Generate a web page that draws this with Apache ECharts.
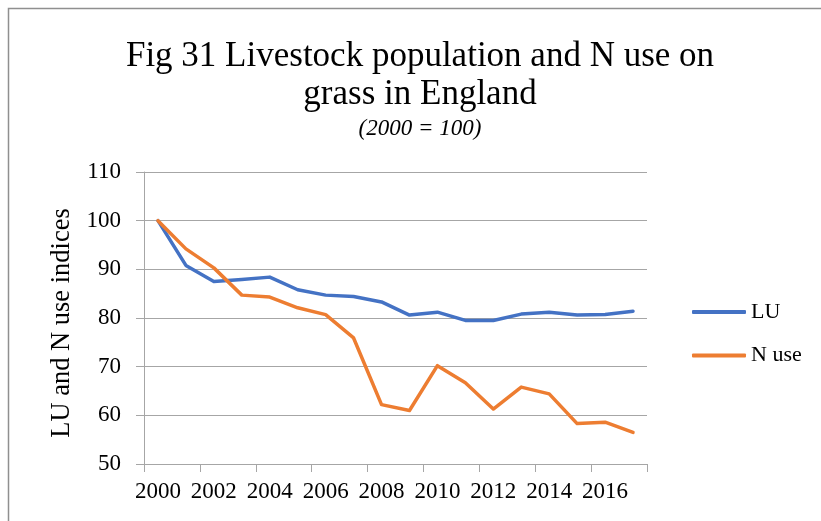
<!DOCTYPE html>
<html>
<head>
<meta charset="utf-8">
<script src="https://cdn.jsdelivr.net/npm/echarts@6/dist/echarts.min.js"></script>
<style>
html,body{margin:0;padding:0;background:#fff;}
#chart{width:821px;height:521px;}
</style>
</head>
<body>
<div id="chart"></div>
<script>
const years = ['2000','2001','2002','2003','2004','2005','2006','2007','2008','2009','2010','2011','2012','2013','2014','2015','2016','2017'];
const luValues = [100, 90.8, 87.5, 87.9, 88.4, 85.8, 84.7, 84.4, 83.3, 80.6, 81.2, 79.5, 79.5, 80.8, 81.2, 80.6, 80.7, 81.4];
const nUseValues = [100, 94.2, 90.3, 84.7, 84.3, 82.1, 80.7, 75.9, 62.2, 61.0, 70.2, 66.7, 61.3, 65.8, 64.4, 58.3, 58.6, 56.5];
const seriesNames = ['LU', 'N use'];
const titleText = 'Fig 31 Livestock population and N use on\ngrass in England';
const subtitleText = '(2000 = 100)';
const yAxisTitle = 'LU and N use indices';

const FONT = '"Liberation Serif", "Times New Roman", serif';
const chart = echarts.init(document.getElementById('chart'), null, {renderer: 'canvas'});
chart.setOption({
  animation: false,
  backgroundColor: '#ffffff',
  graphic: [{
    type: 'rect',
    shape: {x: 8.5, y: 8.5, width: 900, height: 700},
    style: {fill: 'none', stroke: '#8f8f8f', lineWidth: 1.5},
    silent: true
  }],
  title: {
    text: titleText,
    subtext: subtitleText,
    left: 420,
    textAlign: 'center',
    top: 38,
    padding: 0,
    itemGap: 3,
    textStyle: {fontFamily: FONT, fontSize: 35, fontWeight: 'normal', color: '#000', lineHeight: 38},
    subtextStyle: {fontFamily: FONT, fontSize: 23, fontStyle: 'italic', color: '#000', lineHeight: 24}
  },
  legend: {
    orient: 'vertical',
    left: 692,
    top: 301,
    padding: 0,
    itemGap: 21.5,
    itemWidth: 54,
    itemHeight: 4,
    icon: 'roundRect',
    data: seriesNames,
    textStyle: {fontFamily: FONT, fontSize: 22, color: '#000', lineHeight: 22}
  },
  grid: {left: 144, right: 174, top: 172, bottom: 57, containLabel: false},
  xAxis: {
    type: 'category',
    data: years,
    boundaryGap: true,
    axisLine: {show: true, lineStyle: {color: '#a6a6a6', width: 1}},
    axisTick: {show: true, interval: 1, length: 8, lineStyle: {color: '#a6a6a6'}},
    axisLabel: {interval: 1, margin: 16, fontFamily: FONT, fontSize: 23, color: '#000'},
    splitLine: {show: false}
  },
  yAxis: {
    type: 'value',
    min: 50,
    max: 110,
    interval: 10,
    name: yAxisTitle,
    nameLocation: 'middle',
    nameGap: 66,
    nameRotate: 90,
    nameTextStyle: {fontFamily: FONT, fontSize: 26.5, color: '#000', padding: [0, 10, 0, 0]},
    axisLine: {show: true, lineStyle: {color: '#a6a6a6', width: 1}},
    axisTick: {show: true, length: 8, lineStyle: {color: '#a6a6a6'}},
    axisLabel: {margin: 23, fontFamily: FONT, fontSize: 23, color: '#000'},
    splitLine: {show: true, lineStyle: {color: '#a6a6a6', width: 1}}
  },
  series: [
    {name: seriesNames[0], type: 'line', data: luValues, symbol: 'none', color: '#4472C4',
     lineStyle: {width: 3.5, color: '#4472C4', cap: 'round', join: 'round'}},
    {name: seriesNames[1], type: 'line', data: nUseValues, symbol: 'none', color: '#ED7D31',
     lineStyle: {width: 3.5, color: '#ED7D31', cap: 'round', join: 'round'}}
  ]
});
</script>
</body>
</html>
